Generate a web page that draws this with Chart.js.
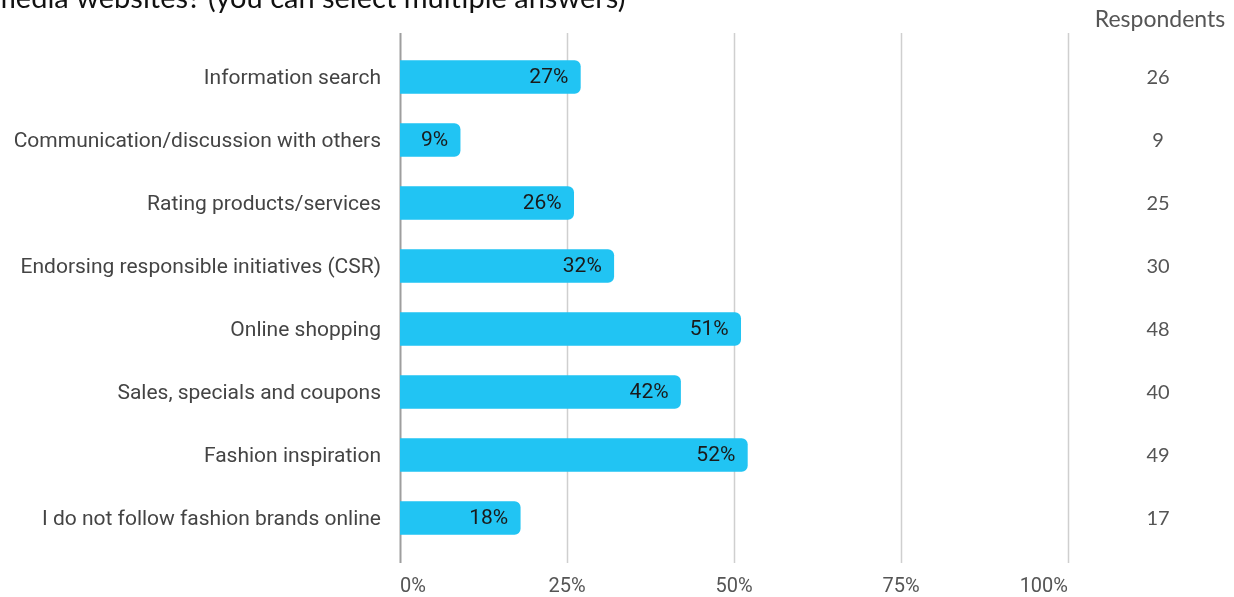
<!DOCTYPE html>
<html>
<head>
<meta charset="utf-8">
<script src="https://cdn.jsdelivr.net/npm/chart.js@4"></script>
<style>
  html, body { margin: 0; padding: 0; background: #fff; }
  #wrap { width: 1234px; height: 597px; position: relative; }
</style>
</head>
<body>
<div id="wrap"><canvas id="myChart"></canvas></div>
<script>
const categories = [
  "Information search",
  "Communication/discussion with others",
  "Rating products/services",
  "Endorsing responsible initiatives (CSR)",
  "Online shopping",
  "Sales, specials and coupons",
  "Fashion inspiration",
  "I do not follow fashion brands online"
];
const shares = [27, 9, 26, 32, 51, 42, 52, 18];
const respondents = [26, 9, 25, 30, 48, 40, 49, 17];
const xTicks = [0, 25, 50, 75, 100];

// gridlines run a little past the bar band, so they are drawn by hand
const gridPlugin = {
  id: 'grid',
  beforeDatasetsDraw(chart) {
    const ctx = chart.ctx, x = chart.scales.x;
    ctx.save();
    xTicks.forEach(t => {
      const px = Math.round(x.getPixelForValue(t)) + 0.5;
      ctx.beginPath();
      ctx.strokeStyle = t === 0 ? '#9e9e9e' : '#cfcfcf';
      ctx.lineWidth = t === 0 ? 2 : 1.5;
      ctx.moveTo(px, 33);
      ctx.lineTo(px, 563);
      ctx.stroke();
    });
    ctx.restore();
  }
};

const extrasPlugin = {
  id: 'extras',
  afterDatasetsDraw(chart) {
    const ctx = chart.ctx;
    const meta = chart.getDatasetMeta(0);
    ctx.save();
    // value labels inside the bar ends
    ctx.font = '21px Roboto';
    ctx.fillStyle = '#1a1a1a';
    ctx.textAlign = 'right';
    ctx.textBaseline = 'middle';
    meta.data.forEach((bar, i) => {
      ctx.fillText(shares[i] + '%', bar.x - 12, bar.y + 1);
    });
    // respondents column
    ctx.fillStyle = '#555';
    ctx.textAlign = 'center';
    ctx.font = '23px Lato';
    ctx.fillText('Respondents', 1160, 20);
    ctx.font = '20px Lato';
    meta.data.forEach((bar, i) => {
      ctx.fillText(String(respondents[i]), 1158, bar.y + 1);
    });
    // question text running off the top edge
    ctx.font = '29px Lato';
    ctx.fillStyle = '#111';
    ctx.textAlign = 'left';
    ctx.textBaseline = 'alphabetic';
    ctx.fillText('media websites? (you can select multiple answers)', -8, 8);
    ctx.restore();
  }
};

new Chart(document.getElementById("myChart"), {
  type: 'bar',
  data: {
    labels: categories,
    datasets: [{
      data: shares,
      backgroundColor: '#21c4f3',
      borderRadius: 6,
      borderSkipped: 'start',
      barThickness: 33
    }]
  },
  options: {
    indexAxis: 'y',
    responsive: true,
    maintainAspectRatio: false,
    animation: false,
    layout: { padding: { top: 45.5, right: 166, bottom: 0, left: 0 } },
    plugins: {
      legend: { display: false },
      tooltip: { enabled: false }
    },
    scales: {
      x: {
        min: 0,
        max: 100,
        afterBuildTicks: s => { s.ticks = xTicks.map(v => ({ value: v })); },
        afterFit: s => { s.height = 47.5; },
        grid: { display: false },
        border: { display: false },
        ticks: {
          align: 'inner',
          padding: 17,
          color: '#555',
          font: { family: 'Roboto', size: 20 },
          callback: v => v + '%'
        }
      },
      y: {
        afterFit: s => { s.width = 400; },
        grid: { display: false },
        border: { display: false },
        ticks: {
          padding: 11,
          labelOffset: 2,
          color: '#444',
          font: { family: 'Roboto', size: 21 }
        }
      }
    }
  },
  plugins: [gridPlugin, extrasPlugin]
});
</script>
</body>
</html>
